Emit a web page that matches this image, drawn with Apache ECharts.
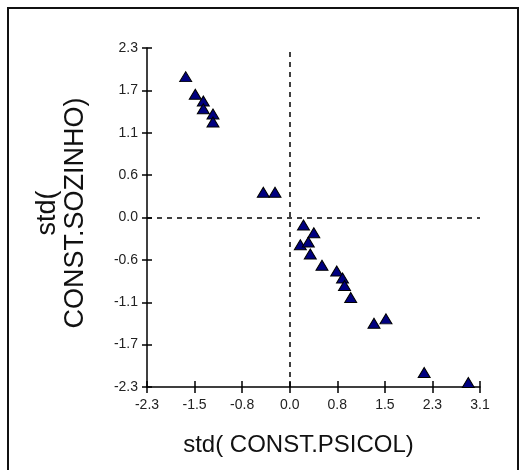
<!DOCTYPE html>
<html>
<head>
    <meta charset="utf-8">
    <title>std scatter</title>
    <script src="https://cdn.jsdelivr.net/npm/echarts@6.0.0/dist/echarts.min.js"></script>
    <style>
        html, body { margin: 0; padding: 0; background: #fff; }
        #chartmain { width: 521px; height: 470px; }
    </style>
</head>
<body>
    <div id="chartmain"></div>

    <script type="text/javascript">

        // values
        var psicol = [-1.675, -1.52, -1.39, -1.39, -1.234, -1.234, -0.421, -0.232,
            0.228, 0.395, 0.177, 0.306, 0.338, 0.527, 0.765, 0.859, 0.891, 0.991,
            1.367, 1.561, 2.178, 2.891];
        var sozinho = [1.911, 1.672, 1.581, 1.476, 1.404, 1.296, 0.342, 0.342,
            -0.102, -0.208, -0.370, -0.332, -0.495, -0.647, -0.726, -0.821, -0.923, -1.085,
            -1.435, -1.375, -2.103, -2.239];

        // axis ticks and their labels
        var xTicks = [-2.3, -1.531, -0.763, 0.006, 0.774, 1.543, 2.311, 3.08];
        var xTickLabels = ['-2.3', '-1.5', '-0.8', '0.0', '0.8', '1.5', '2.3', '3.1'];
        var yTicks = [-2.3, -1.725, -1.15, -0.575, 0, 0.575, 1.15, 1.725, 2.3];
        var yTickLabels = ['-2.3', '-1.7', '-1.1', '-0.6', '0.0', '0.6', '1.1', '1.7', '2.3'];
        var refLines = [0];

        var points = psicol.map(function (v, i) { return [v, sozinho[i]]; });

        function lab(ticks, labels) {
            return function (v) {
                for (var i = 0; i < ticks.length; i++) {
                    if (Math.abs(ticks[i] - v) < 1e-6) return labels[i];
                }
                return '';
            };
        }

        var font = 'Liberation Sans, Arial, sans-serif';
        var axisLine = { show: true, onZero: false, lineStyle: { color: '#000', width: 1.5 } };

        var myChart = echarts.init(document.getElementById('chartmain'));

        myChart.setOption({
            animation: false,
            backgroundColor: '#fff',
            grid: { left: 147, right: 41, top: 48, bottom: 83 },
            xAxis: [
                {
                    type: 'value', position: 'bottom',
                    min: xTicks[0], max: xTicks[xTicks.length - 1],
                    name: 'std( CONST.PSICOL)',
                    nameLocation: 'middle', nameGap: 46,
                    nameTextStyle: { fontFamily: font, fontSize: 24, color: '#111', padding: [0, 30, 0, 0] },
                    axisLine: axisLine,
                    axisTick: { show: true, customValues: xTicks, length: 6, lineStyle: { color: '#000', width: 1.5 } },
                    axisLabel: {
                        customValues: xTicks, formatter: lab(xTicks, xTickLabels), margin: 11,
                        fontFamily: font, fontSize: 14, color: '#222'
                    },
                    splitLine: { show: false }
                },
                {
                    type: 'value', position: 'bottom',
                    min: xTicks[0], max: xTicks[xTicks.length - 1],
                    axisLine: { show: false, onZero: false },
                    axisTick: { show: true, inside: true, customValues: xTicks, length: 6, lineStyle: { color: '#000', width: 1.5 } },
                    axisLabel: { show: false },
                    splitLine: { show: false }
                }
            ],
            yAxis: [
                {
                    type: 'value', position: 'left',
                    min: yTicks[0], max: yTicks[yTicks.length - 1],
                    name: 'std(\nCONST.SOZINHO)',
                    nameLocation: 'middle', nameRotate: 90, nameGap: 57,
                    nameTextStyle: { fontFamily: font, fontSize: 27, color: '#111', lineHeight: 28, padding: [0, 0, 0, 9] },
                    axisLine: axisLine,
                    axisTick: { show: true, customValues: yTicks, length: 5, lineStyle: { color: '#000', width: 1.5 } },
                    axisLabel: {
                        customValues: yTicks, formatter: lab(yTicks, yTickLabels), margin: 9,
                        fontFamily: font, fontSize: 14, color: '#222'
                    },
                    splitLine: { show: false }
                },
                {
                    type: 'value', position: 'left',
                    min: yTicks[0], max: yTicks[yTicks.length - 1],
                    axisLine: { show: false, onZero: false },
                    axisTick: { show: true, inside: true, customValues: yTicks, length: 5, lineStyle: { color: '#000', width: 1.5 } },
                    axisLabel: { show: false },
                    splitLine: { show: false }
                }
            ],
            graphic: [
                {
                    type: 'rect', silent: true,
                    shape: { x: 8, y: 8, width: 510, height: 480 },
                    style: { fill: 'none', stroke: '#111', lineWidth: 2 }
                }
            ],
            series: [
                {
                    type: 'scatter',
                    xAxisIndex: 0, yAxisIndex: 0,
                    symbol: 'triangle',
                    symbolSize: [12, 10],
                    itemStyle: { color: '#000080', borderColor: '#000', borderWidth: 1, opacity: 1 },
                    data: points,
                    markLine: {
                        silent: true, symbol: 'none',
                        label: { show: false },
                        lineStyle: { color: '#000', width: 1.5, type: [5, 5] },
                        data: [{ xAxis: refLines[0] }, { yAxis: refLines[0] }]
                    },
                    z: 3
                }
            ]
        });

    </script>
</body>
</html>
